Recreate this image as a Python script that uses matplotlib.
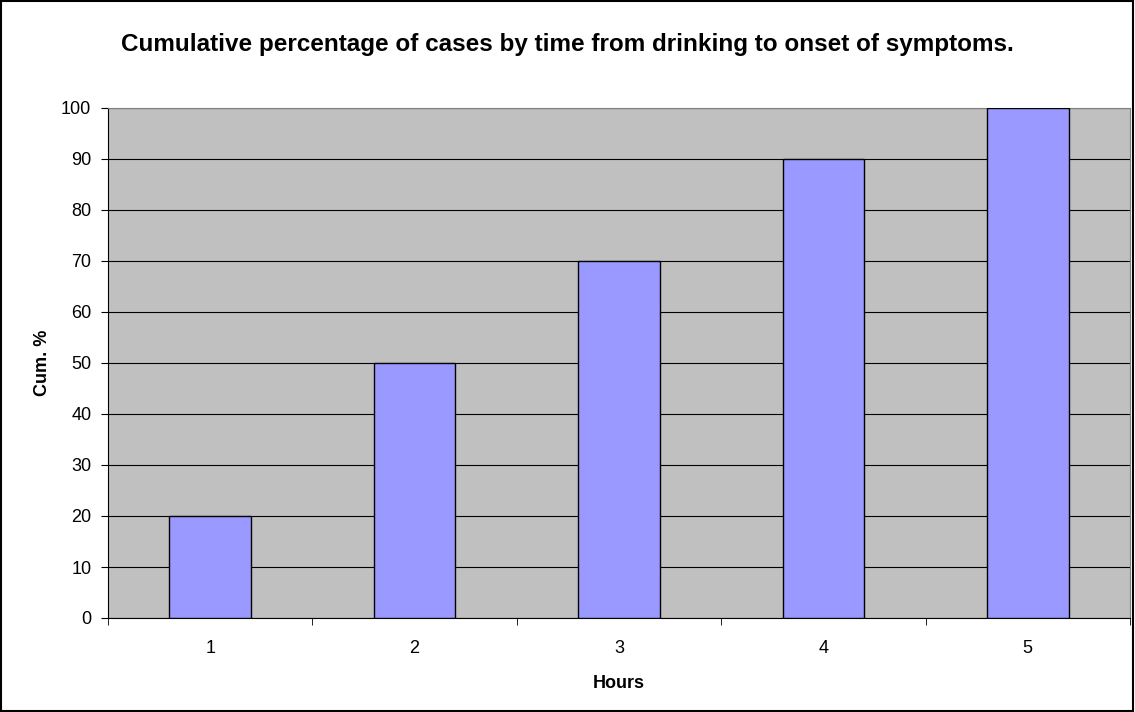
import matplotlib.pyplot as plt
import numpy as np
from matplotlib.patches import Rectangle

hours = [1, 2, 3, 4, 5]
cum_pct = [20, 50, 70, 90, 100]

plt.rcParams['font.family'] = ['Liberation Sans', 'DejaVu Sans']

fig = plt.figure(figsize=(11.35, 7.12), dpi=100)
ax = fig.add_axes([108/1135, 1-618/712, 1022/1135, 510/712])
ax.set_facecolor('#C0C0C0')

ax.bar(hours, cum_pct, width=0.4, color='#9999FF', edgecolor='black', linewidth=1, zorder=3)

ax.set_xlim(0.5, 5.5)
ax.set_ylim(0, 100)
ax.set_yticks(np.arange(0, 101, 10))
ax.set_xticks(hours)
ax.set_xticks(np.arange(0.5, 5.6, 1), minor=True)
ax.tick_params(axis='x', which='major', length=0, pad=16, labelsize=13)
ax.tick_params(axis='x', which='minor', length=5, direction='out')
ax.tick_params(axis='y', length=5, direction='out', labelsize=13, pad=7)
ax.yaxis.grid(True, color='black', linewidth=0.8, zorder=1)
ax.set_axisbelow(True)
for s in ['top', 'right']:
    ax.spines[s].set_color('#808080')
for s in ['left', 'bottom']:
    ax.spines[s].set_color('black')

ax.set_xlabel('Hours', fontsize=13, fontweight='bold', labelpad=13)
ax.set_ylabel('Cum. %', fontsize=13, fontweight='bold', labelpad=7.5)
fig.text(0.5, 1-45/712, 'Cumulative percentage of cases by time from drinking to onset of symptoms.',
         ha='center', va='center', fontsize=17.5, fontweight='bold')

fig.patches.append(Rectangle((0.0005, 0.001), 0.998, 0.997, transform=fig.transFigure,
                             fill=False, edgecolor='black', linewidth=1.5))

plt.savefig('out.png', dpi=100)
